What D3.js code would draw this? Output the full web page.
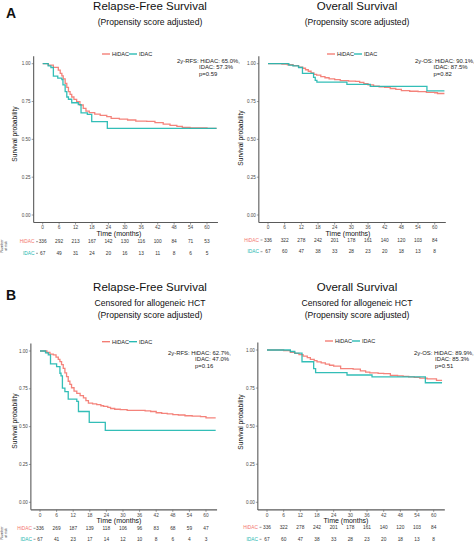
<!DOCTYPE html>
<html><head><meta charset="utf-8">
<script src="https://cdn.jsdelivr.net/npm/d3@7"></script>
<style>
body{margin:0;background:#fff}
svg{display:block}
text{font-family:"Liberation Sans",Arial,Helvetica,sans-serif}
</style>
</head><body>
<svg id="chart" width="474" height="543"></svg>
<script>
// ---------- data ----------
const groups = ["HiDAC", "IDAC"];
const groupColors = ["#F3766D", "#1DB7AF"];
const timeTicks = [0, 6, 12, 18, 24, 30, 36, 42, 48, 54, 60];
const survTicks = [0, 0.25, 0.5, 0.75, 1];
const survTickLabels = ["0.00", "0.25", "0.50", "0.75", "1.00"];

// Panel A – Relapse-free survival
const rfsA_hidac_t = [0, 2, 3.9, 5.7, 6.4, 7, 7.5, 8.2, 8.8, 9.4, 10, 10.6, 11.4, 12.4, 13.6, 14.8, 15.8, 17, 19, 21, 23.4, 25, 28, 31, 34, 38, 41, 44, 46.5, 49, 51, 53.8, 60, 63.5];
const rfsA_hidac_s = [1, 0.99, 0.976, 0.958, 0.936, 0.92, 0.9, 0.87, 0.843, 0.815, 0.797, 0.78, 0.764, 0.75, 0.727, 0.705, 0.687, 0.676, 0.667, 0.659, 0.65, 0.639, 0.634, 0.628, 0.621, 0.619, 0.61, 0.601, 0.592, 0.586, 0.579, 0.575, 0.572, 0.572];
const rfsA_idac_t = [0, 2, 3, 3.9, 5.5, 7, 7.4, 8.2, 8.8, 9.4, 10.6, 13, 14, 16.3, 17.9, 23.6, 63.5];
const rfsA_idac_s = [1, 0.985, 0.975, 0.918, 0.905, 0.895, 0.86, 0.815, 0.78, 0.765, 0.742, 0.73, 0.675, 0.665, 0.617, 0.573, 0.573];

// Panel A – Overall survival
const osA_hidac_t = [0, 5, 7, 9, 11, 12.5, 13.5, 14.5, 15.5, 16.5, 17.5, 19, 20.5, 22, 24, 26, 29, 31.5, 33, 34.5, 36, 38, 40, 42, 44, 46, 48, 51, 54, 57, 60, 61, 63.5];
const osA_hidac_s = [1, 0.998, 0.993, 0.987, 0.978, 0.97, 0.96, 0.95, 0.94, 0.93, 0.925, 0.915, 0.907, 0.9, 0.895, 0.888, 0.885, 0.883, 0.876, 0.868, 0.86, 0.852, 0.847, 0.844, 0.836, 0.83, 0.822, 0.818, 0.815, 0.81, 0.808, 0.803, 0.803];
const osA_idac_t = [0, 7.5, 9, 11, 12.4, 16.4, 17, 17.6, 28.4, 36.8, 57.2, 63.5];
const osA_idac_s = [1, 0.99, 0.985, 0.975, 0.936, 0.91, 0.89, 0.878, 0.863, 0.85, 0.82, 0.82];

// Panel B – Relapse-free survival, censored for allogeneic HCT
const rfsB_hidac_t = [0, 2.5, 3.6, 4.8, 5.8, 6.6, 7.2, 7.8, 8.4, 9, 9.6, 10.2, 10.8, 11.4, 12.3, 13.3, 14.5, 15.7, 16.6, 17.5, 19, 20.5, 22, 23, 24.5, 25.5, 27, 29, 31.5, 34, 38, 40, 42, 44, 46, 48, 50, 52.4, 55, 58, 60, 63.5];
const rfsB_hidac_s = [1, 0.99, 0.98, 0.974, 0.96, 0.945, 0.93, 0.91, 0.885, 0.855, 0.83, 0.8, 0.78, 0.757, 0.735, 0.72, 0.705, 0.69, 0.672, 0.656, 0.65, 0.645, 0.638, 0.634, 0.627, 0.62, 0.615, 0.612, 0.608, 0.607, 0.604, 0.6, 0.592, 0.588, 0.584, 0.58, 0.577, 0.572, 0.569, 0.566, 0.558, 0.558];
const rfsB_idac_t = [0, 2, 3, 3.8, 6, 7.2, 7.6, 8.1, 9, 10.2, 13.3, 13.9, 17.8, 23.6, 63.5];
const rfsB_idac_s = [1, 0.988, 0.974, 0.915, 0.897, 0.853, 0.835, 0.755, 0.732, 0.682, 0.667, 0.6, 0.528, 0.476, 0.476];

// Panel B – Overall survival, censored for allogeneic HCT
const osB_hidac_t = [0, 6, 8.4, 10, 11.5, 13, 14.5, 15.6, 17, 18, 19.5, 21, 22.5, 24, 26.5, 31, 33.6, 35.5, 37, 40, 42, 44.4, 47, 49, 51, 53, 55, 57.6, 60, 61, 63];
const osB_hidac_s = [1, 0.996, 0.985, 0.978, 0.97, 0.96, 0.95, 0.938, 0.93, 0.922, 0.915, 0.907, 0.9, 0.894, 0.878, 0.874, 0.863, 0.855, 0.85, 0.847, 0.845, 0.834, 0.83, 0.827, 0.823, 0.82, 0.815, 0.81, 0.81, 0.8, 0.8];
const osB_idac_t = [0, 8.4, 10, 12.6, 16.8, 17.5, 28.8, 37.8, 57, 63];
const osB_idac_s = [1, 0.99, 0.98, 0.923, 0.878, 0.852, 0.836, 0.823, 0.785, 0.785];

// Numbers at risk
const riskA_rfs_hidac = [336, 292, 213, 167, 142, 130, 116, 100, 84, 71, 53];
const riskA_rfs_idac  = [67, 49, 31, 24, 20, 16, 13, 11, 8, 6, 5];
const riskA_os_hidac  = [336, 322, 278, 242, 201, 178, 161, 140, 120, 103, 84];
const riskA_os_idac   = [67, 60, 47, 38, 33, 28, 23, 20, 18, 13, 8];
const riskB_rfs_hidac = [336, 269, 187, 139, 118, 106, 96, 83, 68, 59, 47];
const riskB_rfs_idac  = [67, 41, 23, 17, 14, 12, 10, 8, 6, 4, 3];
const riskB_os_hidac  = [336, 322, 278, 242, 201, 178, 161, 140, 120, 103, 84];
const riskB_os_idac   = [67, 60, 47, 38, 33, 28, 23, 20, 18, 13, 8];

// Texts
const panelLetters = ["A", "B"];
const titlesA = [["Relapse-Free Survival", "(Propensity score adjusted)"], ["Overall Survival", "(Propensity score adjusted)"]];
const titlesB = [["Relapse-Free Survival", "Censored for allogeneic HCT", "(Propensity score adjusted)"], ["Overall Survival", "Censored for allogeneic HCT", "(Propensity score adjusted)"]];
const annotA = [["2y-RFS: HiDAC: 65.0%,", "IDAC: 57.3%", "p=0.59"], ["2y-OS: HiDAC: 90.1%,", "IDAC: 87.5%", "p=0.82"]];
const annotB = [["2y-RFS: HiDAC: 62.7%,", "IDAC: 47.0%", "p=0.16"], ["2y-OS: HiDAC: 89.9%,", "IDAC: 85.3%", "p=0.51"]];

// ---------- drawing ----------
const svg = d3.select("#chart");
svg.append("rect").attr("width", 474).attr("height", 543).attr("fill", "#fff");
const axisCol = "#5a5a5a", tickTextCol = "#4a4a4a";

function drawPanel(p) {
  const g = svg.append("g");
  const x = d3.scaleLinear().domain([0, 60]).range([p.x0, p.x60]);
  const y = d3.scaleLinear().domain([0, 1]).range([p.y0, p.y1]);
  const xL = x(-3.3), xR = x(64), yT = y(1.05), yB = y(-0.05);

  // titles
  p.titles.forEach((t, i) => {
    g.append("text").attr("x", p.titleX).attr("y", p.titleY[i])
      .attr("text-anchor", "middle").attr("font-size", i === 0 ? 11.5 : 8.6)
      .attr("fill", "#111").text(t);
  });

  // curves
  const line = d3.line().x(d => x(d[0])).y(d => y(d[1])).curve(d3.curveStepAfter);
  p.curves.forEach((c, gi) => {
    g.append("path").datum(d3.zip(c.t, c.s)).attr("d", line)
      .attr("fill", "none").attr("stroke", groupColors[gi])
      .attr("stroke-width", 1.3).attr("stroke-opacity", 0.9);
  });

  // axes
  g.append("line").attr("x1", xL).attr("x2", xL).attr("y1", yT).attr("y2", yB)
    .attr("stroke", axisCol).attr("stroke-width", 1.1);
  g.append("line").attr("x1", xL).attr("x2", xR).attr("y1", yB).attr("y2", yB)
    .attr("stroke", axisCol).attr("stroke-width", 1.1);
  survTicks.forEach((v, i) => {
    g.append("line").attr("x1", xL - 2).attr("x2", xL).attr("y1", y(v)).attr("y2", y(v))
      .attr("stroke", axisCol).attr("stroke-width", 0.6);
    g.append("text").attr("x", xL - 3).attr("y", y(v) + 1.6).attr("text-anchor", "end")
      .attr("font-size", 4.6).attr("fill", tickTextCol).text(survTickLabels[i]);
  });
  timeTicks.forEach(v => {
    g.append("line").attr("x1", x(v)).attr("x2", x(v)).attr("y1", yB).attr("y2", yB + 2)
      .attr("stroke", axisCol).attr("stroke-width", 0.6);
    g.append("text").attr("x", x(v)).attr("y", yB + 6.8).attr("text-anchor", "middle")
      .attr("font-size", 4.8).attr("fill", tickTextCol).text(v);
  });
  g.append("text").attr("x", p.xLabX).attr("y", yB + 13.5).attr("text-anchor", "middle")
    .attr("font-size", 7).attr("fill", "#111").text("Time (months)");
  g.append("text").attr("transform", `translate(${p.yLabX},${p.yLabY}) rotate(-90)`)
    .attr("text-anchor", "middle").attr("font-size", 6.6).attr("fill", "#111")
    .text("Survival probability");

  // legend
  let lx = p.legX;
  groups.forEach((name, gi) => {
    g.append("line").attr("x1", lx).attr("x2", lx + 8).attr("y1", p.legY).attr("y2", p.legY)
      .attr("stroke", groupColors[gi]).attr("stroke-width", 1.3);
    g.append("text").attr("x", lx + 10).attr("y", p.legY + 2).attr("font-size", 5.6)
      .attr("fill", "#222").text(name);
    lx += 27;
  });

  // annotation
  p.annot.forEach((t, i) => {
    g.append("text").attr("x", i === 0 ? p.annX : p.annX2).attr("y", p.annY + i * 6.6)
      .attr("font-size", 5.9).attr("fill", "#222").text(t);
  });

  // risk table
  p.risk.forEach((row, gi) => {
    const ry = p.riskY[gi];
    g.append("text").attr("x", p.riskLabX).attr("y", ry + 1.7).attr("text-anchor", "end")
      .attr("font-size", 4.8).attr("fill", groupColors[gi]).text(groups[gi]);
    g.append("line").attr("x1", p.riskLabX + 1.5).attr("x2", p.riskLabX + 3.5).attr("y1", ry).attr("y2", ry)
      .attr("stroke", axisCol).attr("stroke-width", 0.6);
    row.forEach((n, i) => {
      g.append("text").attr("x", x(timeTicks[i])).attr("y", ry + 1.7).attr("text-anchor", "middle")
        .attr("font-size", 4.8).attr("fill", "#333").text(n);
    });
  });
  if (p.nrisk) {
    ["Number", "at risk"].forEach((t, i) => {
      g.append("text").attr("transform", `translate(${3 + i * 3.6},${p.nriskY}) rotate(-90)`)
        .attr("text-anchor", "middle").attr("font-size", 3.6).attr("fill", "#333").text(t);
    });
  }
}

const panels = [
  { x0: 42.7, x60: 207, y1: 63.7, y0: 215, titles: titlesA[0], titleX: 150, titleY: [10, 25],
    curves: [{ t: rfsA_hidac_t, s: rfsA_hidac_s }, { t: rfsA_idac_t, s: rfsA_idac_s }],
    xLabX: 119, yLabX: 17, yLabY: 134, legX: 102, legY: 54,
    annot: annotA[0], annX: 177, annX2: 199, annY: 62.5,
    risk: [riskA_rfs_hidac, riskA_rfs_idac], riskY: [241.7, 253.3], riskLabX: 34.5, nrisk: true, nriskY: 246 },
  { x0: 268, x60: 434.7, y1: 63.7, y0: 215, titles: titlesA[1], titleX: 357, titleY: [10, 25],
    curves: [{ t: osA_hidac_t, s: osA_hidac_s }, { t: osA_idac_t, s: osA_idac_s }],
    xLabX: 348, yLabX: 243, yLabY: 138, legX: 327, legY: 54,
    annot: annotA[1], annX: 415, annX2: 433.5, annY: 62.5,
    risk: [riskA_os_hidac, riskA_os_idac], riskY: [240, 251.7], riskLabX: 259, nrisk: false },
  { x0: 40, x60: 206, y1: 351, y0: 502.3, titles: titlesB[0], titleX: 150, titleY: [291, 306, 318],
    curves: [{ t: rfsB_hidac_t, s: rfsB_hidac_s }, { t: rfsB_idac_t, s: rfsB_idac_s }],
    xLabX: 119, yLabX: 16.5, yLabY: 421, legX: 102, legY: 341.7,
    annot: annotB[0], annX: 168, annX2: 195, annY: 354.5,
    risk: [riskB_rfs_hidac, riskB_rfs_idac], riskY: [528.3, 539.3], riskLabX: 32, nrisk: true, nriskY: 533 },
  { x0: 267, x60: 433.7, y1: 350, y0: 502.3, titles: titlesB[1], titleX: 357, titleY: [291, 306, 318],
    curves: [{ t: osB_hidac_t, s: osB_hidac_s }, { t: osB_idac_t, s: osB_idac_s }],
    xLabX: 346, yLabX: 243, yLabY: 422, legX: 325, legY: 341,
    annot: annotB[1], annX: 414, annX2: 435, annY: 354.5,
    risk: [riskB_os_hidac, riskB_os_idac], riskY: [527.3, 539.3], riskLabX: 258, nrisk: false }
];
panels.forEach(drawPanel);

// panel letters
svg.append("text").attr("x", 6).attr("y", 18).attr("font-size", 14).attr("font-weight", "bold").attr("fill", "#111").text(panelLetters[0]);
svg.append("text").attr("x", 6).attr("y", 300).attr("font-size", 14).attr("font-weight", "bold").attr("fill", "#111").text(panelLetters[1]);
</script>
</body></html>
